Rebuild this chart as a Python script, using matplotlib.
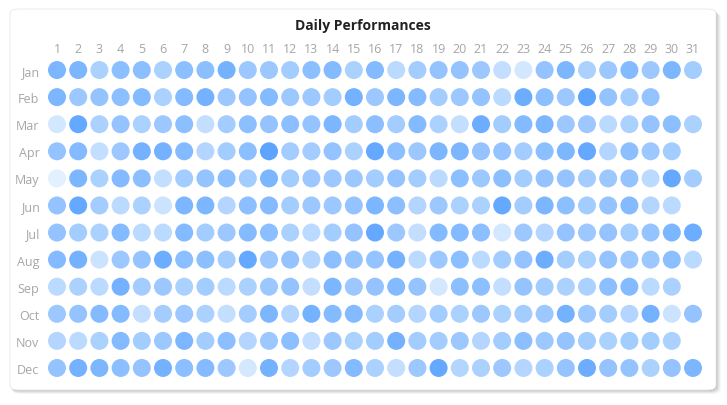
import numpy as np
import matplotlib.pyplot as plt
from matplotlib.patches import FancyBboxPatch
from matplotlib.colors import LinearSegmentedColormap

months = ["Jan", "Feb", "Mar", "Apr", "May", "Jun",
          "Jul", "Aug", "Sep", "Oct", "Nov", "Dec"]

# performance score per day (0-10)
jan = [7, 7, 4, 6, 6, 4, 6, 6, 7.5, 5, 5, 4.5, 6, 6.5, 4, 6.5,
       3, 4.5, 5.5, 5.5, 5, 2.5, 1.5, 5.5, 7, 4, 5, 6.5, 5, 7, 4.5]
feb = [7, 5, 5.5, 6, 6.5, 4, 6.5, 7.5, 5, 5.5, 6.5, 5, 5, 4.5, 7.5,
       5, 7, 6.5, 4.5, 5, 5.5, 3, 8, 6, 5, 9, 5.5, 4.5, 5.5]
mar = [1.5, 8.5, 4, 5.5, 4, 5, 6, 2.5, 4.5, 6, 5.5, 6, 5.5, 7, 4.5, 6,
       4.5, 6.5, 4, 2.5, 8, 4.5, 6.5, 7, 5, 5, 3, 4, 5.5, 6, 4]
apr = [5.5, 6.5, 2.5, 5, 7.5, 7.5, 6.5, 3.5, 4.5, 6, 9, 4.5, 4.5, 5.5, 4,
       8.5, 6, 5, 7, 7, 5.5, 5.5, 4.5, 6, 7, 8.5, 3.5, 6, 5, 4.5]
may = [0.5, 7, 4, 6.5, 6, 2.5, 4.5, 5.5, 6, 4.5, 7, 4.5, 5, 5, 5, 4.5,
       5.5, 4.5, 3, 6, 5, 6, 4.5, 5.5, 5.5, 4.5, 5, 5.5, 3, 8.5, 4.5]
jun = [5.5, 8.5, 4.5, 3, 4, 2, 7, 7, 3.5, 6, 6.5, 4.5, 5, 5, 5.5,
       7, 6, 3.5, 5, 4, 4, 8.5, 4.5, 7, 6, 4.5, 5.5, 6.5, 3.5, 3]
jul = [5.5, 4.5, 4, 6.5, 3, 3, 6.5, 4.5, 5, 6.5, 6, 4, 3, 4.5, 5.5, 8.5,
       5, 2.5, 6.5, 6.5, 6, 1.5, 5, 3.5, 5.5, 5, 5.5, 4.5, 5.5, 7, 8]
aug = [6.5, 7.5, 2, 5, 5.5, 8, 6, 6, 4.5, 8.5, 5, 5.5, 3.5, 6, 5.5, 5.5,
       7.5, 3, 5, 6, 3, 4.5, 5.5, 8, 4.5, 4, 5.5, 5, 5, 6, 3]
sep = [3, 4, 3, 7.5, 4.5, 5, 4, 4.5, 3, 4, 5, 5.5, 2.5, 7, 5,
       5.5, 6.5, 5.5, 1.5, 6, 6, 2.5, 5.5, 4.5, 4, 4, 6, 6.5, 3, 4]
oct_ = [5, 5.5, 6.5, 6.5, 2.5, 4.5, 5, 4, 2.5, 4.5, 7, 3.5, 7.5, 6.5, 6.5, 4,
        4.5, 3.5, 4.5, 4, 5, 4, 4.5, 5, 7.5, 5, 4.5, 3.5, 7.5, 2, 5.5]
nov = [3.5, 3, 4, 6.5, 4.5, 5, 7, 4.5, 6, 3.5, 5, 6, 2.5, 5, 4,
       4.5, 7.5, 4.5, 4.5, 5, 3.5, 4.5, 6, 5, 5.5, 4.5, 4, 4.5, 4.5, 4]
dec = [5.5, 7.5, 7, 6, 5.5, 7.5, 6, 6.5, 5, 1.5, 7.5, 3.5, 4.5, 5, 6.5, 4,
       2.5, 5, 8.5, 3.5, 4, 5, 3.5, 4, 5.5, 8, 5.5, 5.5, 4, 5.5, 7]

scores = [jan, feb, mar, apr, may, jun, jul, aug, sep, oct_, nov, dec]

W, H = 727, 406
fig = plt.figure(figsize=(W / 100, H / 100), dpi=100)
fig.patch.set_facecolor("white")

# card with soft shadow
for i, a in enumerate([0.04, 0.05, 0.07, 0.09]):
    off = 4 - i
    sh = FancyBboxPatch(((10 + off * 0.6) / W, (H - 391 - off) / H),
                        (706 + off * 0.6) / W, 381 / H,
                        boxstyle="round,pad=0,rounding_size=0.012",
                        transform=fig.transFigure, facecolor="black",
                        edgecolor="none", alpha=a, zorder=0)
    fig.patches.append(sh)
card = FancyBboxPatch((10 / W, (H - 391) / H), 706 / W, 381 / H,
                      boxstyle="round,pad=0,rounding_size=0.012",
                      transform=fig.transFigure, facecolor="white",
                      edgecolor="#e8e8e8", linewidth=0.6, zorder=1)
fig.patches.append(card)

ax = fig.add_axes([46.4 / W, (H - 382.5) / H, 657.2 / W, 325 / H])
ax.set_zorder(2)
ax.patch.set_alpha(0)

cmap = LinearSegmentedColormap.from_list("perf", ["#eaf4ff", "#55a0ff"])

for m, vals in enumerate(scores):
    days = np.arange(1, len(vals) + 1)
    ax.scatter(days, np.full(len(vals), m), s=168, c=vals, cmap=cmap,
               vmin=0, vmax=9.5, linewidths=0)

ax.set_xlim(0.5, 31.5)
ax.set_ylim(11.5, -0.5)
ax.set_xticks(np.arange(1, 32))
ax.set_yticks(np.arange(12))
ax.set_yticklabels(months)
ax.xaxis.tick_top()
ax.tick_params(length=0, labelsize=9, labelcolor="#a6a6a6")
ax.tick_params(axis="x", pad=1)
ax.tick_params(axis="y", pad=5)
for lbl in ax.get_xticklabels() + ax.get_yticklabels():
    lbl.set_family(["Open Sans", "DejaVu Sans"])
for s in ax.spines.values():
    s.set_visible(False)

fig.text(363 / W, 1 - 26 / H, "Daily Performances", ha="center", va="center",
         fontsize=10, fontweight="bold", color="#222222",
         family=["Open Sans", "DejaVu Sans"], zorder=3)

fig.savefig("out.png", dpi=100)
